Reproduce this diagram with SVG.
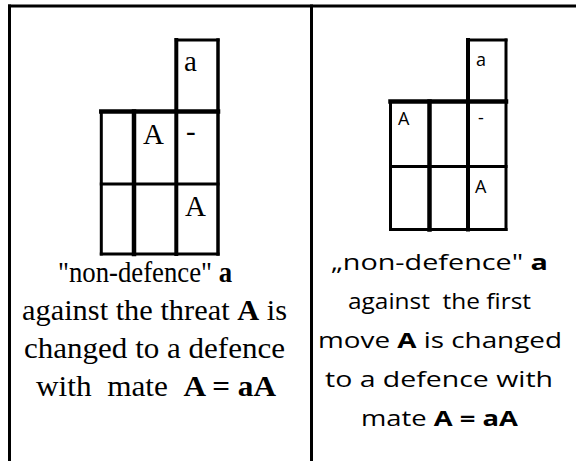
<svg xmlns="http://www.w3.org/2000/svg" width="576" height="461" viewBox="0 0 576 461">
<style>
.ln{stroke:#000;stroke-width:3;fill:none;stroke-linecap:square}
.tk{stroke-width:4.5}
.serif{font-family:"Liberation Serif","Times New Roman",serif;fill:#000;white-space:pre}
.sans{font-family:"Open Sans","Noto Sans","Liberation Sans",sans-serif;fill:#000;white-space:pre}
.b{font-weight:bold}
</style>
<rect width="576" height="461" fill="#fff"/>
<g id="frame">
<line class="ln" x1="9.5" y1="6" x2="577" y2="6"/>
<line class="ln" x1="9.5" y1="6" x2="9.5" y2="462"/>
<line class="ln" x1="311.5" y1="6" x2="311.5" y2="462"/>
</g>
<g id="left-grid">
<line class="ln" x1="176.3" y1="40" x2="218" y2="40"/>
<line class="ln tk" x1="101.3" y1="111.5" x2="218" y2="111.5"/>
<line class="ln" x1="101.3" y1="184" x2="218" y2="184"/>
<line class="ln" x1="101.3" y1="254" x2="218" y2="254"/>
<line class="ln" x1="101.3" y1="111.5" x2="101.3" y2="254"/>
<line class="ln tk" x1="134" y1="111.5" x2="134" y2="254"/>
<line class="ln" x1="176.3" y1="40" x2="176.3" y2="254" style="stroke-width:4"/>
<line class="ln" x1="218" y1="40" x2="218" y2="254" style="stroke-width:3.5"/>
<text class="serif" x="184" y="71" font-size="29">a</text>
<text class="serif" x="143" y="144" font-size="29">A</text>
<text class="serif" x="186" y="141" font-size="29">-</text>
<text class="serif" x="185" y="216" font-size="29">A</text>
</g>
<g id="right-grid">
<line class="ln" x1="468" y1="40" x2="506" y2="40"/>
<line class="ln tk" x1="390.5" y1="101.5" x2="506" y2="101.5"/>
<line class="ln" x1="390.5" y1="166.5" x2="506" y2="166.5"/>
<line class="ln" x1="390.5" y1="229.5" x2="506" y2="229.5"/>
<line class="ln" x1="390.5" y1="101.5" x2="390.5" y2="229.5"/>
<line class="ln tk" x1="429.5" y1="101.5" x2="429.5" y2="229.5"/>
<line class="ln" x1="468" y1="40" x2="468" y2="229.5" style="stroke-width:4"/>
<line class="ln" x1="506" y1="40" x2="506" y2="229.5"/>
<text class="sans" x="476" y="66" font-size="18">a</text>
<text class="sans" x="398" y="125" font-size="18">A</text>
<text class="sans" x="478" y="124" font-size="18">-</text>
<text class="sans" x="475" y="193" font-size="18">A</text>
</g>
<g id="left-caption" font-size="30">
<text class="serif" x="58" y="282" textLength="174" lengthAdjust="spacingAndGlyphs">"non-defence" <tspan class="b">a</tspan></text>
<text class="serif" x="22" y="320" textLength="265" lengthAdjust="spacingAndGlyphs">against the threat <tspan class="b">A</tspan> is</text>
<text class="serif" x="24" y="358" textLength="261" lengthAdjust="spacingAndGlyphs">changed to a defence</text>
<text class="serif" x="36" y="396" textLength="240" lengthAdjust="spacingAndGlyphs">with  mate  <tspan class="b">A = aA</tspan></text>
</g>
<g id="right-caption" font-size="22">
<text class="sans" x="331" y="270" textLength="217" lengthAdjust="spacingAndGlyphs">„non-defence" <tspan class="b">a</tspan></text>
<text class="sans" x="348" y="309" textLength="183" lengthAdjust="spacingAndGlyphs">against  the first</text>
<text class="sans" x="318" y="348" textLength="244" lengthAdjust="spacingAndGlyphs">move <tspan class="b">A</tspan> is changed</text>
<text class="sans" x="325" y="387" textLength="228" lengthAdjust="spacingAndGlyphs">to a defence with</text>
<text class="sans" x="361" y="426" textLength="157" lengthAdjust="spacingAndGlyphs">mate <tspan class="b">A = aA</tspan></text>
</g>
</svg>
